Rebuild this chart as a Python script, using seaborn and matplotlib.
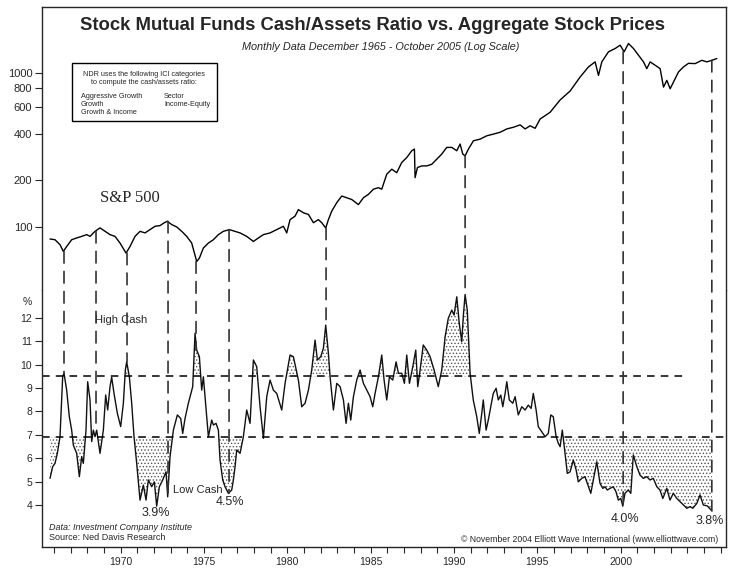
import numpy as np
import matplotlib
matplotlib.use('Agg')
import matplotlib.pyplot as plt
import seaborn as sns
from matplotlib.patches import ConnectionPatch, Rectangle
from matplotlib.ticker import FixedLocator, FixedFormatter, NullLocator, MultipleLocator

sns.set_style('ticks')
plt.rcParams['font.family'] = ['Liberation Sans', 'DejaVu Sans']
plt.rcParams['hatch.linewidth'] = 0.6

# S&P 500
sp_years = [1965.77, 1966.07, 1966.37, 1966.57, 1966.77, 1967.07, 1967.37, 1967.67, 1967.97, 1968.17,
            1968.47, 1968.77, 1969.07, 1969.37, 1969.67, 1969.97, 1970.33, 1970.57, 1970.87, 1971.17,
            1971.47, 1971.77, 1972.07, 1972.37, 1972.61, 1972.81, 1973.07, 1973.37, 1973.67, 1973.97,
            1974.27, 1974.57, 1974.73, 1974.97, 1975.27, 1975.57, 1975.87, 1976.17, 1976.53, 1976.87,
            1977.17, 1977.57, 1977.97, 1978.27, 1978.57, 1978.97, 1979.37, 1979.77, 1979.97, 1980.17,
            1980.47, 1980.67, 1980.97, 1981.27, 1981.57, 1981.87, 1982.07, 1982.31, 1982.47, 1982.67,
            1982.97, 1983.27, 1983.57, 1983.87, 1984.27, 1984.57, 1984.87, 1985.17, 1985.47, 1985.67,
            1985.97, 1986.27, 1986.57, 1986.87, 1987.17, 1987.47, 1987.63, 1987.67, 1987.81, 1988.07,
            1988.37, 1988.67, 1988.97, 1989.27, 1989.57, 1989.87, 1990.17, 1990.37, 1990.53, 1990.67,
            1990.87, 1991.17, 1991.57, 1991.97, 1992.37, 1992.77, 1993.17, 1993.57, 1993.97, 1994.27,
            1994.57, 1994.87, 1995.17, 1995.77, 1996.37, 1996.97, 1997.57, 1998.07, 1998.47, 1998.67,
            1998.87, 1999.27, 1999.67, 1999.97, 2000.21, 2000.47, 2000.77, 2001.07, 2001.37, 2001.57,
            2001.77, 2002.07, 2002.37, 2002.57, 2002.77, 2002.97, 2003.17, 2003.47, 2003.77, 2004.07,
            2004.47, 2004.87, 2005.17, 2005.47, 2005.77]
sp_values = [83.1, 82.2, 76.3, 69.0, 74.3, 82.2, 84.4, 86.4, 88.7, 86.4,
             93.2, 98.1, 93.2, 88.7, 86.4, 78.2, 67.3, 74.3, 86.4, 93.2,
             91.0, 95.6, 100.5, 101.5, 105.7, 108.3, 103.1, 99.5, 93.2, 86.4,
             78.2, 59.3, 62.4, 72.6, 78.2, 82.2, 88.7, 93.2, 95.6, 93.2,
             91.0, 86.4, 80.1, 84.4, 88.7, 91.0, 95.6, 100.5, 91.0, 111,
             117, 129, 123, 120, 106, 111, 106, 98, 111, 126,
             143, 158, 154, 150, 139, 154, 162, 175, 179, 175,
             219, 236, 224, 261, 281, 311, 319, 208, 242, 248,
             248, 254, 274, 296, 327, 327, 311, 344, 296, 288,
             319, 361, 370, 389, 399, 410, 431, 442, 458, 431,
             452, 435, 500, 553, 665, 760, 937, 1090, 1175, 960,
             1175, 1366, 1435, 1508, 1366, 1547, 1435, 1297, 1175, 1062,
             1175, 1116, 1062, 806, 891, 786, 870, 1011, 1090, 1150,
             1145, 1203, 1175, 1203, 1235]

# stock fund cash/assets ratio, %
cash_years = [1965.77, 1965.93, 1966.07, 1966.21, 1966.37, 1966.53, 1966.61, 1966.77, 1966.93, 1967.07,
              1967.17, 1967.37, 1967.53, 1967.67, 1967.77, 1967.93, 1968.03, 1968.17, 1968.27, 1968.37,
              1968.47, 1968.57, 1968.77, 1968.97, 1969.11, 1969.23, 1969.37, 1969.47, 1969.61, 1969.81,
              1970.01, 1970.17, 1970.29, 1970.37, 1970.53, 1970.67, 1970.81, 1970.97, 1971.17, 1971.37,
              1971.53, 1971.67, 1971.87, 1972.03, 1972.17, 1972.33, 1972.53, 1972.73, 1972.83, 1972.97,
              1973.17, 1973.41, 1973.61, 1973.73, 1973.87, 1974.07, 1974.33, 1974.47, 1974.57, 1974.73,
              1974.87, 1974.97, 1975.07, 1975.27, 1975.47, 1975.57, 1975.73, 1975.87, 1975.97, 1976.13,
              1976.27, 1976.47, 1976.67, 1976.77, 1976.87, 1976.97, 1977.17, 1977.37, 1977.57, 1977.77,
              1977.97, 1978.17, 1978.37, 1978.57, 1978.77, 1978.97, 1979.17, 1979.37, 1979.67, 1979.87,
              1980.17, 1980.37, 1980.67, 1980.87, 1981.07, 1981.27, 1981.47, 1981.67, 1981.81, 1982.01,
              1982.17, 1982.31, 1982.47, 1982.57, 1982.77, 1982.97, 1983.17, 1983.37, 1983.53, 1983.67,
              1983.81, 1983.97, 1984.17, 1984.37, 1984.57, 1984.77, 1984.97, 1985.13, 1985.27, 1985.47,
              1985.67, 1985.81, 1985.97, 1986.13, 1986.33, 1986.53, 1986.67, 1986.87, 1987.03, 1987.17,
              1987.33, 1987.53, 1987.71, 1987.83, 1987.97, 1988.16, 1988.37, 1988.57, 1988.81, 1989.06,
              1989.27, 1989.47, 1989.66, 1989.87, 1990.01, 1990.17, 1990.32, 1990.47, 1990.56, 1990.67,
              1990.80, 1990.97, 1991.16, 1991.37, 1991.52, 1991.67, 1991.76, 1991.93, 1992.06, 1992.21,
              1992.36, 1992.53, 1992.66, 1992.81, 1992.93, 1993.07, 1993.17, 1993.32, 1993.53, 1993.67,
              1993.86, 1994.07, 1994.27, 1994.46, 1994.63, 1994.76, 1994.93, 1995.06, 1995.27, 1995.47,
              1995.66, 1995.81, 1995.96, 1996.13, 1996.26, 1996.37, 1996.50, 1996.62, 1996.80, 1996.97,
              1997.16, 1997.33, 1997.46, 1997.67, 1997.86, 1998.00, 1998.21, 1998.36, 1998.57, 1998.76,
              1998.93, 1999.06, 1999.20, 1999.36, 1999.56, 1999.72, 1999.86, 2000.01, 2000.13, 2000.26,
              2000.46, 2000.61, 2000.76, 2000.97, 2001.16, 2001.36, 2001.57, 2001.76, 2001.96, 2002.17,
              2002.36, 2002.53, 2002.77, 2002.96, 2003.16, 2003.37, 2003.67, 2003.97, 2004.16, 2004.33,
              2004.57, 2004.76, 2004.96, 2005.20, 2005.47]
cash_values = [5.14, 5.64, 5.78, 6.21, 6.92, 9.48, 9.63, 8.91, 7.77, 7.2,
               6.56, 6.21, 5.21, 6.06, 5.78, 7.2, 9.27, 8.49, 6.71, 7.2,
               6.92, 7.2, 6.21, 7.2, 8.7, 8.06, 9.06, 9.46, 8.77, 7.92,
               7.35, 8.35, 9.77, 10.12, 9.48, 8.35, 6.92, 5.78, 4.21, 4.85,
               4.21, 5.07, 4.78, 4.99, 3.95, 4.78, 5.07, 5.42, 4.35, 6.06,
               7.2, 7.85, 7.7, 7.06, 7.7, 8.35, 9.06, 11.34, 10.62, 10.34,
               8.91, 9.48, 8.63, 6.92, 7.63, 7.42, 7.49, 7.2, 5.92, 5.07,
               4.78, 4.5, 4.64, 5.07, 5.64, 6.35, 6.21, 6.92, 8.06, 7.49,
               10.2, 9.91, 8.2, 6.85, 8.63, 9.34, 8.91, 8.77, 8.06, 9.2,
               10.41, 10.34, 9.34, 8.2, 8.35, 8.91, 9.77, 11.05, 10.2, 10.34,
               10.7, 11.69, 10.48, 9.48, 8.06, 9.2, 9.06, 8.49, 7.49, 8.35,
               7.63, 8.63, 9.34, 9.77, 9.2, 8.91, 8.63, 8.2, 8.77, 9.48,
               10.41, 9.34, 8.49, 9.48, 9.34, 10.12, 9.63, 9.63, 9.2, 10.41,
               9.2, 9.91, 10.62, 9.06, 9.77, 10.84, 10.62, 10.34, 9.77, 9.06,
               9.77, 11.19, 11.98, 12.33, 12.12, 12.9, 11.76, 10.98, 12.05, 13.0,
               12.33, 9.63, 8.49, 7.77, 7.06, 7.92, 8.49, 7.2, 7.63, 8.2,
               8.77, 8.99, 8.49, 8.7, 8.2, 8.77, 9.27, 8.49, 8.35, 8.63,
               7.85, 8.2, 8.06, 8.27, 8.13, 8.77, 8.06, 7.35, 7.13, 6.92,
               7.06, 7.85, 7.77, 6.92, 6.64, 6.49, 7.2, 6.49, 5.35, 5.42,
               5.92, 5.5, 4.99, 5.14, 5.21, 4.93, 4.5, 5.07, 5.85, 4.93,
               4.71, 4.78, 4.64, 4.71, 4.78, 4.57, 4.21, 4.28, 3.95, 4.5,
               4.64, 4.5, 6.14, 5.64, 5.28, 5.14, 5.21, 5.07, 5.14, 4.78,
               4.64, 4.28, 4.71, 4.21, 4.5, 4.28, 4.07, 3.86, 3.93, 3.86,
               4.07, 4.43, 4.0, 3.96, 3.75]

high_cash = 9.5
low_cash = 6.9

# dashed markers linking turns in prices to cash extremes
marker_years = [1966.61, 1968.53, 1970.39, 1972.85, 1974.53, 1976.51, 1982.33, 1990.67, 2000.15, 2005.47]

extreme_labels = ['3.9%', '4.5%', '4.0%', '3.8%']
extreme_years = [1972.14, 1976.58, 2000.27, 2005.37]
extreme_pos = [3.66, 4.13, 3.40, 3.32]

W, H = 736, 572
fig = plt.figure(figsize=(W / 100, H / 100), dpi=100)
left, right = 42 / W, 726 / W
ax_top = fig.add_axes([left, 1 - 290 / H, right - left, (290 - 7) / H])
ax_bot = fig.add_axes([left, 1 - 547 / H, right - left, (547 - 290) / H])

xmin, xmax = 1965.29, 2006.32

# --- S&P panel
sns.lineplot(x=sp_years, y=sp_values, ax=ax_top, color='black', lw=1.0)
ax_top.set_yscale('log')
ax_top.set_ylim(38.75, 2670)
ax_top.set_xlim(xmin, xmax)
ax_top.yaxis.set_major_locator(FixedLocator([100, 200, 400, 600, 800, 1000]))
ax_top.yaxis.set_major_formatter(FixedFormatter(['100', '200', '400', '600', '800', '1000']))
ax_top.yaxis.set_minor_locator(NullLocator())
ax_top.set_xticks([])
ax_top.spines['bottom'].set_visible(False)
for s in ['left', 'right', 'top']:
    ax_top.spines[s].set_visible(True)
    ax_top.spines[s].set_linewidth(1.0)
ax_top.tick_params(axis='y', direction='out', length=5, width=0.8, labelsize=8, pad=2)
ax_top.set_xlabel('')
ax_top.set_ylabel('')

# --- cash ratio panel
cy = np.array(cash_years)
cv = np.array(cash_values)
ax_bot.fill_between(cy, cv, high_cash, where=cv > high_cash, interpolate=True,
                    facecolor='none', edgecolor='#555555', hatch='.....', linewidth=0)
ax_bot.fill_between(cy, cv, low_cash, where=cv < low_cash, interpolate=True,
                    facecolor='none', edgecolor='#555555', hatch='.....', linewidth=0)
sns.lineplot(x=cash_years, y=cash_values, ax=ax_bot, color='#111111', lw=1.0)
ax_bot.plot([xmin, 2003.86], [high_cash, high_cash], color='black', lw=1.1, ls=(0, (5, 4)))
ax_bot.axhline(low_cash, color='black', lw=1.1, ls=(0, (5, 4)))
ax_bot.set_ylim(2.205, 13.19)
ax_bot.set_xlim(xmin, xmax)
ax_bot.set_yticks(range(4, 13))
ax_bot.xaxis.set_major_locator(FixedLocator([1970, 1975, 1980, 1985, 1990, 1995, 2000]))
ax_bot.xaxis.set_minor_locator(MultipleLocator(1))
ax_bot.spines['top'].set_visible(False)
for s in ['left', 'right', 'bottom']:
    ax_bot.spines[s].set_visible(True)
    ax_bot.spines[s].set_linewidth(1.0)
ax_bot.tick_params(axis='y', direction='out', length=5, width=0.8, labelsize=7.5, pad=2)
ax_bot.tick_params(axis='x', which='both', direction='out', length=4, width=0.8, labelsize=7.5, pad=3)
ax_bot.set_xlabel('')
ax_bot.set_ylabel('')

# dashed verticals from the price curve down to the cash curve
sy, sv = np.array(sp_years), np.array(sp_values)
for yr in marker_years:
    top_val = sv[np.argmin(np.abs(sy - yr))]
    bot_val = cv[np.argmin(np.abs(cy - yr))]
    con = ConnectionPatch(xyA=(yr, top_val), coordsA=ax_top.transData,
                          xyB=(yr, bot_val), coordsB=ax_bot.transData,
                          color='#333333', lw=1.2, linestyle=(0, (7, 5)))
    fig.add_artist(con)

for lab, yr, pos in zip(extreme_labels, extreme_years, extreme_pos):
    ax_bot.text(yr, pos, lab, ha='center', va='center', fontsize=9)
ax_bot.text(1968.47, 11.9, 'High Cash', ha='left', va='center', fontsize=8)
ax_bot.text(1973.15, 4.64, 'Low Cash', ha='left', va='center', fontsize=8)


def ftext(x, y, s, **kw):
    fig.text(x / W, 1 - y / H, s, **kw)


ftext(372, 26, 'Stock Mutual Funds Cash/Assets Ratio vs. Aggregate Stock Prices',
      ha='center', va='center', fontsize=13.3, fontweight='bold')
ftext(381, 47, 'Monthly Data December 1965 - October 2005 (Log Scale)',
      ha='center', va='center', fontsize=7.8, style='italic')
ftext(130, 198, 'S&P 500', ha='center', va='center', fontsize=12,
      family=['Liberation Serif', 'DejaVu Serif'])
ftext(27, 302, '%', ha='center', va='center', fontsize=7.5)
ftext(49, 528, 'Data: Investment Company Institute', ha='left', va='center',
      fontsize=6.5, style='italic')
ftext(49, 538, 'Source: Ned Davis Research', ha='left', va='center', fontsize=6.5)
ftext(718, 539, '\u00a9 November 2004 Elliott Wave International (www.elliottwave.com)',
      ha='right', va='center', fontsize=6.2)

# NDR note box
box = Rectangle((72 / W, 1 - 121 / H), 145 / W, 58 / H, transform=fig.transFigure,
                facecolor='white', edgecolor='black', lw=1.0)
fig.add_artist(box)
ftext(144, 74, 'NDR uses the following ICI categories', ha='center', va='center', fontsize=5.2)
ftext(144, 83, 'to compute the cash/assets ratio:', ha='center', va='center', fontsize=5.2)
ftext(81, 97, 'Aggressive Growth', ha='left', va='center', fontsize=5.2)
ftext(81, 105, 'Growth', ha='left', va='center', fontsize=5.2)
ftext(81, 113, 'Growth & Income', ha='left', va='center', fontsize=5.2)
ftext(164, 97, 'Sector', ha='left', va='center', fontsize=5.2)
ftext(164, 105, 'Income-Equity', ha='left', va='center', fontsize=5.2)

fig.savefig('out.png', dpi=100)
